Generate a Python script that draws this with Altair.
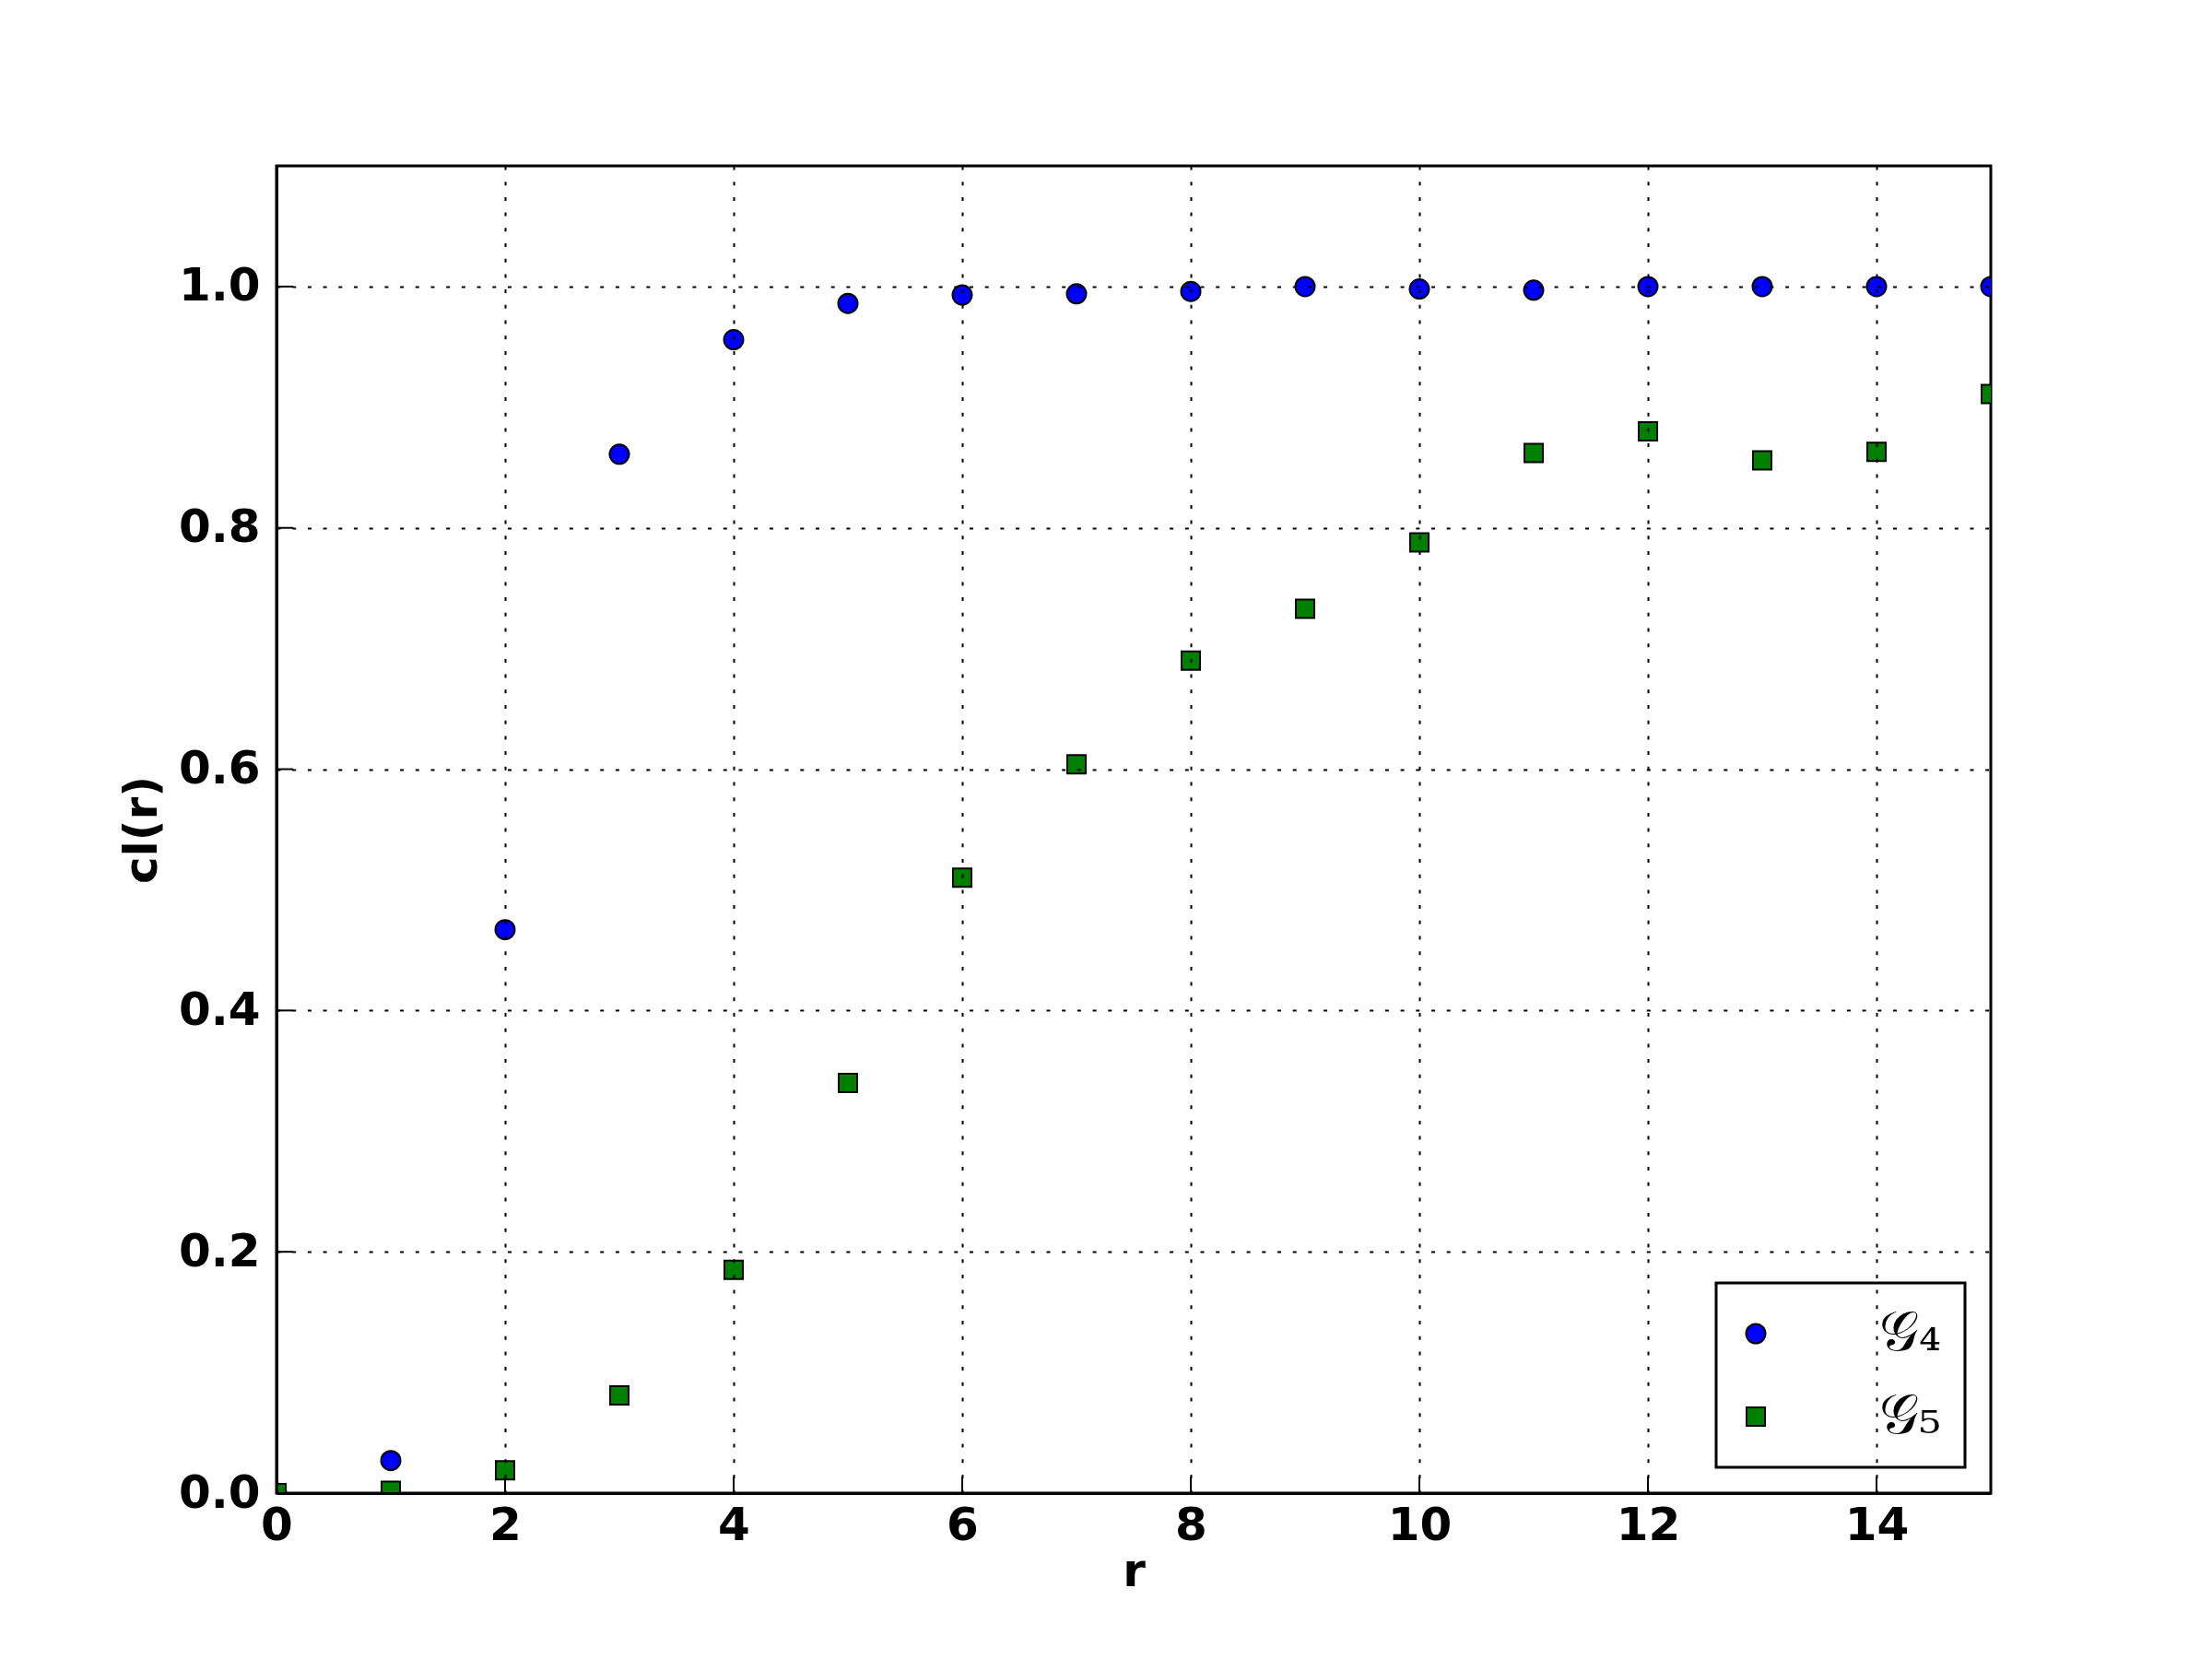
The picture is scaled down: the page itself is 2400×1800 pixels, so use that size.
import altair as alt
import pandas as pd

# ---- data ----
r_values = list(range(16))
g4_values = [0.0, 0.027, 0.467, 0.861, 0.956, 0.986, 0.993, 0.994, 0.996, 1.0,
             0.998, 0.997, 1.0, 1.0, 1.0, 1.0]
g5_values = [0.0, 0.002, 0.019, 0.081, 0.185, 0.340, 0.510, 0.604, 0.690, 0.733,
             0.788, 0.862, 0.880, 0.856, 0.863, 0.911]
series_labels = ["𝒢₄", "𝒢₅"]
x_ticks = [0, 2, 4, 6, 8, 10, 12, 14]
y_ticks = [0.0, 0.2, 0.4, 0.6, 0.8, 1.0]

rows = []
for r, v in zip(r_values, g4_values):
    rows.append({"r": r, "cl": v, "series": series_labels[0]})
for r, v in zip(r_values, g5_values):
    rows.append({"r": r, "cl": v, "series": series_labels[1]})
df = pd.DataFrame(rows)

W, H = 1860, 1440
FONT = "DejaVu Sans"

x_scale = alt.Scale(domain=[0, 15], nice=False, zero=False)
y_scale = alt.Scale(domain=[0, 1.1], nice=False, zero=False)

legend = alt.Legend(
    title=None, orient="bottom-right", offset=28,
    symbolStrokeWidth=2, symbolOpacity=1, symbolOffset=-12,
    labelFont="DejaVu Serif", labelFontSize=60, labelColor="black",
    labelOffset=104, rowPadding=30, padding=25,
)

points = alt.Chart(df).mark_point(
    filled=True, strokeWidth=2, opacity=1, clip=True
).encode(
    x=alt.X("r:Q", scale=x_scale,
            axis=alt.Axis(values=x_ticks, title="r", format="d", zindex=1,
                          labelPadding=10, titlePadding=0)),
    y=alt.Y("cl:Q", scale=y_scale,
            axis=alt.Axis(values=y_ticks, title="cl(r)", format=".1f", zindex=1,
                          labelPadding=18, titlePadding=14)),
    color=alt.Color("series:N",
                    scale=alt.Scale(domain=series_labels, range=["#0000ff", "#008000"]),
                    legend=legend),
    shape=alt.Shape("series:N",
                    scale=alt.Scale(domain=series_labels, range=["circle", "square"]),
                    legend=legend),
    size=alt.Size("series:N",
                  scale=alt.Scale(domain=series_labels, range=[441, 400]),
                  legend=legend),
    stroke=alt.Stroke("series:N",
                      scale=alt.Scale(domain=series_labels, range=["black", "black"]),
                      legend=legend),
)

xt_df = pd.DataFrame({"r": x_ticks})
yt_df = pd.DataFrame({"cl": y_ticks})

x_tick_marks = alt.Chart(xt_df).mark_rule(color="black", strokeWidth=2).encode(
    x=alt.X("r:Q", scale=x_scale),
    y=alt.value(H),
    y2=alt.value(H - 18),
)
y_tick_marks = alt.Chart(yt_df).mark_rule(color="black", strokeWidth=2).encode(
    y=alt.Y("cl:Q", scale=y_scale),
    x=alt.value(0),
    x2=alt.value(18),
)

chart = alt.layer(points, x_tick_marks, y_tick_marks).properties(
    width=W, height=H,
    autosize=alt.AutoSizeParams(type="none"),
    padding={"left": 292, "top": 172, "right": 232, "bottom": 172},
).configure(
    background="white",
).configure_view(
    stroke="black", strokeWidth=3, fill="white",
).configure_axis(
    labelFont=FONT, labelFontWeight="bold", labelFontSize=50, labelColor="black",
    titleFont=FONT, titleFontWeight="bold", titleFontSize=50, titleColor="black",
    domainColor="black", domainWidth=3, ticks=False,
    grid=True, gridColor="black", gridWidth=2, gridOpacity=1, gridDash=[4, 12.7],
    labelFlush=False, labelOverlap=False,
).configure_legend(
    fillColor="white", strokeColor="black", strokeWidth=3, cornerRadius=0,
)

chart.save("out.html", embed_options={"renderer": "svg", "actions": False})
